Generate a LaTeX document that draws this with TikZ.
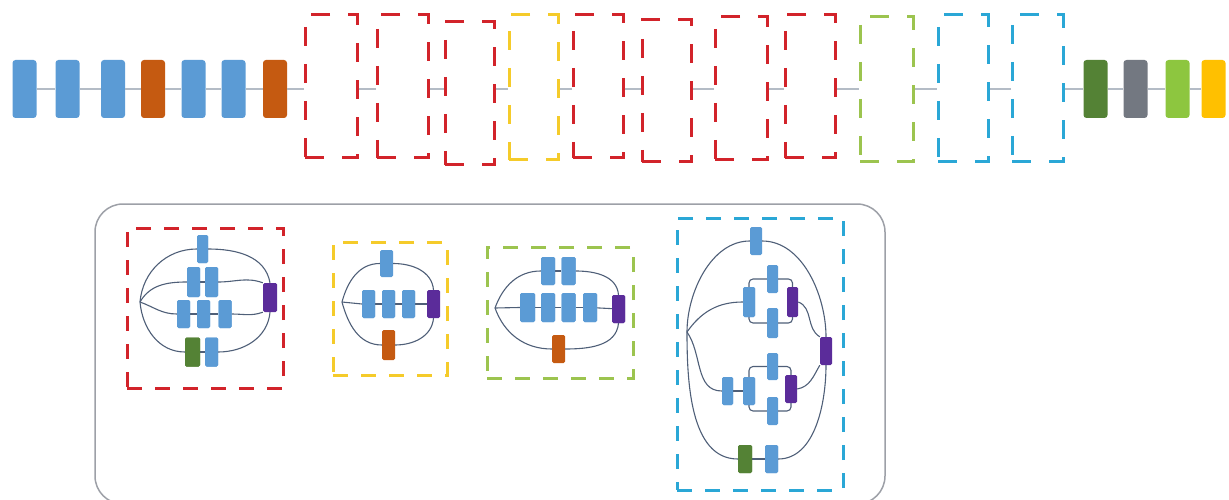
\documentclass[tikz,border=0pt]{standalone}
\usetikzlibrary{calc}
\definecolor{cBlue}{HTML}{5B9BD5}
\definecolor{cOrange}{HTML}{C55A11}
\definecolor{cDGreen}{HTML}{548235}
\definecolor{cGray}{HTML}{737881}
\definecolor{cLGreen}{HTML}{8DC63F}
\definecolor{cYellow}{HTML}{FFC000}
\definecolor{cPurple}{HTML}{5B2C9A}
\definecolor{dRed}{HTML}{D2232A}
\definecolor{dYellow}{HTML}{F5CB2A}
\definecolor{dGreen}{HTML}{9CC44F}
\definecolor{dBlue}{HTML}{2AA7D6}
\definecolor{cLink}{HTML}{4F5F78}
\definecolor{cTopLink}{HTML}{B4BCC6}
\begin{document}
\begin{tikzpicture}[x=1pt,y=-1pt,
  blk/.style={draw=none,rounded corners=3pt,minimum width=24pt,minimum height=58pt,inner sep=0pt},
  sblk/.style={draw=none,rounded corners=1.5pt,minimum width=13pt,minimum height=28pt,inner sep=0pt},
  dbox/.style={draw=#1,dash pattern=on 19pt off 18pt,line width=3pt,inner sep=0pt},
  bbox/.style={draw=#1,dash pattern=on 15pt off 13pt,line width=3pt,inner sep=0pt},
  toplink/.style={draw=cTopLink,line width=1.6pt},
  link/.style={draw=cLink,line width=1.1pt}]
\useasboundingbox (0,0) rectangle (1229,500);
% ---------- top row ----------
\node[blk,fill=cBlue] (t1) at (24.5,89) {};
\node[blk,fill=cBlue] (t2) at (67.5,89) {};
\node[blk,fill=cBlue] (t3) at (113,89) {};
\node[blk,fill=cOrange] (t4) at (153,89) {};
\node[blk,fill=cBlue] (t5) at (193.5,89) {};
\node[blk,fill=cBlue] (t6) at (233.5,89) {};
\node[blk,fill=cOrange] (t7) at (275,89) {};
\node[dbox=dRed,minimum width=52pt,minimum height=143pt] (d1) at (331,86.5) {};
\node[dbox=dRed,minimum width=51pt,minimum height=143pt] (d2) at (402.5,86.5) {};
\node[dbox=dRed,minimum width=49pt,minimum height=143pt] (d3) at (469.5,93.5) {};
\node[dbox=dYellow,minimum width=49pt,minimum height=145pt] (d4) at (533.5,87.5) {};
\node[dbox=dRed,minimum width=50pt,minimum height=143pt] (d5) at (598,86.5) {};
\node[dbox=dRed,minimum width=49pt,minimum height=142pt] (d6) at (666.5,91) {};
\node[dbox=dRed,minimum width=52pt,minimum height=143pt] (d7) at (741,88.5) {};
\node[dbox=dRed,minimum width=50pt,minimum height=143pt] (d8) at (810,86.5) {};
\node[dbox=dGreen,minimum width=53pt,minimum height=145pt] (d9) at (886.5,89.5) {};
\node[dbox=dBlue,minimum width=50pt,minimum height=147pt] (d10) at (963,88.5) {};
\node[dbox=dBlue,minimum width=51pt,minimum height=147pt] (d11) at (1037.5,88.5) {};
\node[blk,fill=cDGreen] (t8) at (1095.5,89) {};
\node[blk,fill=cGray] (t9) at (1135.5,89) {};
\node[blk,fill=cLGreen] (t10) at (1177.5,89) {};
\node[blk,fill=cYellow] (t11) at (1213.5,89) {};
\begin{scope}[on background layer/.style={}]
\foreach \a/\b in {t1/t2,t2/t3,t3/t4,t4/t5,t5/t6,t6/t7,t8/t9,t9/t10,t10/t11}
  \draw[toplink] (\a.east) -- (\b.west);
\draw[toplink] (t7.east) -- (d1.west |- t7);
\foreach \a/\b in {d1/d2,d2/d3,d3/d4,d4/d5,d5/d6,d6/d7,d7/d8,d8/d9,d9/d10,d10/d11}
  \draw[toplink] (\a.east |- t1) -- (\b.west |- t1);
\draw[toplink] (d11.east |- t1) -- (t8.west);
\end{scope}
% ---------- frame ----------
\node[draw=cGray!70,line width=1.5pt,rounded corners=28pt,minimum width=790pt,minimum height=300pt,inner sep=0pt] (frame) at (490,354) {};
% ---------- red cluster ----------
\node[bbox=dRed,minimum width=156pt,minimum height=160pt] (bR) at (205,308) {};
\coordinate (Rin) at (140,302);
\node[sblk,fill=cBlue,minimum width=11pt] (Rtop) at (202.5,249) {};
\node[sblk,fill=cBlue,minimum height=30pt] (R2a) at (193.5,282) {};
\node[sblk,fill=cBlue,minimum height=30pt] (R2b) at (211.5,282) {};
\node[sblk,fill=cBlue] (R3a) at (183.5,314) {};
\node[sblk,fill=cBlue] (R3b) at (203.5,314) {};
\node[sblk,fill=cBlue] (R3c) at (225,314) {};
\node[sblk,fill=cDGreen,minimum width=15pt,minimum height=29pt] (R4g) at (192.5,352) {};
\node[sblk,fill=cBlue,minimum height=29pt] (R4b) at (211.5,352) {};
\node[sblk,fill=cPurple,minimum width=14pt,minimum height=29pt] (Rp) at (270,297.5) {};
\draw[link] (Rin) to[out=85,in=180] (Rtop.west);
\draw[link] (Rin) to[out=60,in=180] (R2a.west);
\draw[link] (Rin) to[out=-20,in=180] (R3a.west);
\draw[link] (Rin) to[out=-85,in=180] (R4g.west);
\draw[link] (Rtop.east) to[out=0,in=100] (Rp.north);
\draw[link] (R2b.east) to[out=0,in=160] (Rp.north west);
\draw[link] (R3c.east) to[out=0,in=200] (Rp.south west);
\draw[link] (R4b.east) to[out=0,in=-95] (Rp.south);
\draw[link] (R2a) -- (R2b); \draw[link] (R3a) -- (R3b); \draw[link] (R3b) -- (R3c); \draw[link] (R4g) -- (R4b);
\node[sblk,fill=cBlue,minimum width=11pt] at (Rtop) {};
\node[sblk,fill=cBlue,minimum height=30pt] at (R2a) {};
\node[sblk,fill=cBlue,minimum height=30pt] at (R2b) {};
\node[sblk,fill=cBlue] at (R3a) {};
\node[sblk,fill=cBlue] at (R3b) {};
\node[sblk,fill=cBlue] at (R3c) {};
\node[sblk,fill=cDGreen,minimum width=15pt,minimum height=29pt] at (R4g) {};
\node[sblk,fill=cBlue,minimum height=29pt] at (R4b) {};
% ---------- yellow cluster ----------
\node[bbox=dYellow,minimum width=114pt,minimum height=133pt] (bY) at (390,308.5) {};
\coordinate (Yin) at (342,302);
\node[sblk,fill=cBlue,minimum height=27pt] (Ytop) at (386.5,263.5) {};
\node[sblk,fill=cBlue] (Y1) at (368.5,304) {};
\node[sblk,fill=cBlue] (Y2) at (388.5,304) {};
\node[sblk,fill=cBlue] (Y3) at (408.5,304) {};
\node[sblk,fill=cOrange,minimum height=30pt] (Yo) at (388.5,345) {};
\node[sblk,fill=cPurple] (Yp) at (433.5,304) {};
\draw[link] (Yin) to[out=75,in=180] (Ytop.west);
\draw[link] (Yin) -- (Y1.west);
\draw[link] (Yin) to[out=-75,in=180] (Yo.west);
\draw[link] (Ytop.east) to[out=0,in=95] (Yp.north);
\draw[link] (Yo.east) to[out=0,in=-95] (Yp.south);
\draw[link] (Y1) -- (Y2); \draw[link] (Y2) -- (Y3); \draw[link] (Y3) -- (Yp);
\node[sblk,fill=cBlue] at (Y1) {};
\node[sblk,fill=cBlue] at (Y2) {};
\node[sblk,fill=cBlue] at (Y3) {};
% ---------- green cluster ----------
\node[bbox=dGreen,minimum width=146pt,minimum height=131pt] (bG) at (560,312.5) {};
\coordinate (Gin) at (495,308);
\node[sblk,fill=cBlue,minimum width=14pt] (Gt1) at (548,271) {};
\node[sblk,fill=cBlue,minimum width=14pt] (Gt2) at (568.5,271) {};
\node[sblk,fill=cBlue,minimum width=15pt,minimum height=29pt] (G1) at (527.5,307.5) {};
\node[sblk,fill=cBlue,minimum width=14pt,minimum height=29pt] (G2) at (548,307.5) {};
\node[sblk,fill=cBlue,minimum width=14pt,minimum height=29pt] (G3) at (568.5,307.5) {};
\node[sblk,fill=cBlue,minimum width=14pt,minimum height=29pt] (G4) at (590,307.5) {};
\node[sblk,fill=cPurple] (Gp) at (618.5,309) {};
\node[sblk,fill=cOrange] (Go) at (558.5,349) {};
\draw[link] (Gin) to[out=70,in=180] (Gt1.west);
\draw[link] (Gin) -- (G1.west);
\draw[link] (Gin) to[out=-70,in=180] (Go.west);
\draw[link] (Gt2.east) to[out=0,in=95] (Gp.north);
\draw[link] (Go.east) to[out=0,in=-95] (Gp.south);
\draw[link] (Gt1) -- (Gt2); \draw[link] (G1) -- (G2); \draw[link] (G2) -- (G3); \draw[link] (G3) -- (G4); \draw[link] (G4) -- (Gp);
\node[sblk,fill=cBlue,minimum width=14pt] at (Gt1) {};
\node[sblk,fill=cBlue,minimum width=14pt] at (Gt2) {};
\node[sblk,fill=cBlue,minimum width=15pt,minimum height=29pt] at (G1) {};
\node[sblk,fill=cBlue,minimum width=14pt,minimum height=29pt] at (G2) {};
\node[sblk,fill=cBlue,minimum width=14pt,minimum height=29pt] at (G3) {};
\node[sblk,fill=cBlue,minimum width=14pt,minimum height=29pt] at (G4) {};
\node[sblk,fill=cPurple] at (Gp) {};
% ---------- blue cluster ----------
\node[bbox=dBlue,minimum width=166pt,minimum height=272pt] (bB) at (760,354) {};
\coordinate (Bin) at (687,332);
\node[sblk,fill=cBlue,minimum width=12pt] (Btop) at (756,241) {};
\node[sblk,fill=cBlue,minimum width=11pt] (But) at (772.5,279) {};
\node[sblk,fill=cBlue,minimum width=12pt,minimum height=30pt] (Bul) at (749,302) {};
\node[sblk,fill=cPurple,minimum width=11pt,minimum height=30pt] (Bup) at (792.5,302) {};
\node[sblk,fill=cBlue,minimum width=11pt,minimum height=30pt] (Bub) at (772.5,323) {};
\node[sblk,fill=cPurple,minimum width=12pt] (Bbp) at (826,351) {};
\node[sblk,fill=cBlue,minimum width=11pt] (Bll) at (727.5,391) {};
\node[sblk,fill=cBlue,minimum width=12pt] (Bl) at (749,391) {};
\node[sblk,fill=cBlue,minimum width=11pt,minimum height=27pt] (Blt) at (772.5,366.5) {};
\node[sblk,fill=cPurple,minimum width=12pt] (Blp) at (791,389) {};
\node[sblk,fill=cBlue,minimum width=11pt] (Blb) at (772.5,411) {};
\node[sblk,fill=cDGreen,minimum width=14pt] (Bg) at (745,459) {};
\node[sblk,fill=cBlue,minimum width=13pt] (Bb) at (771.5,459) {};
\draw[link] (Bin) to[out=90,in=180,looseness=0.9] (Btop.west);
\draw[link] (Btop.east) to[out=0,in=90,looseness=0.9] (Bbp.north);
\draw[link] (Bbp.south) to[out=-90,in=0,looseness=0.9] (Bb.east);
\draw[link] (Bin) to[out=-90,in=180,looseness=0.9] (Bg.west);
\draw[link] (Bin) to[out=55,in=180] (Bul.west);
\draw[link] (Bin) to[out=-55,in=180] (Bll.west);
\draw[link,rounded corners=4pt] (Bul.north) |- (But.west);
\draw[link,rounded corners=4pt] (But.east) -| (Bup.north);
\draw[link,rounded corners=4pt] (Bul.south) |- (Bub.west);
\draw[link,rounded corners=4pt] (Bub.east) -| (Bup.south);
\draw[link] (Bup.east) to[out=-20,in=150] (Bbp.north west);
\draw[link] (Bll) -- (Bl);
\draw[link,rounded corners=4pt] (Bl.north) |- (Blt.west);
\draw[link,rounded corners=4pt] (Blt.east) -| (Blp.north);
\draw[link,rounded corners=4pt] (Bl.south) |- (Blb.west);
\draw[link,rounded corners=4pt] (Blb.east) -| (Blp.south);
\draw[link] (Blp.east) to[out=10,in=-120] (Bbp.south west);
\draw[link] (Bg) -- (Bb);
\node[sblk,fill=cBlue,minimum width=12pt,minimum height=30pt] at (Bul) {};
\node[sblk,fill=cBlue,minimum width=12pt] at (Bl) {};
\node[sblk,fill=cBlue,minimum width=11pt] at (Bll) {};
\node[sblk,fill=cDGreen,minimum width=14pt] at (Bg) {};
\node[sblk,fill=cBlue,minimum width=13pt] at (Bb) {};
\end{tikzpicture}
\end{document}
